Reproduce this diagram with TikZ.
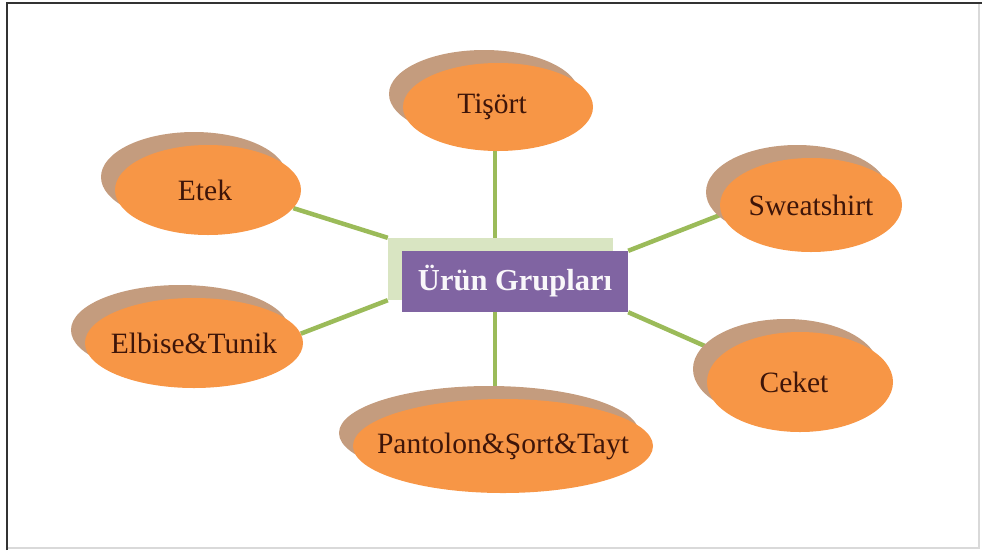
\documentclass[tikz,border=0pt]{standalone}
\usepackage{fontspec}
\setmainfont{Liberation Serif}
\usetikzlibrary{shapes.geometric,shadows,backgrounds}

\definecolor{blobfill}{HTML}{F79646}
\definecolor{blobshade}{HTML}{C49C7E}
\definecolor{blobtext}{HTML}{3E1509}
\definecolor{linkgreen}{HTML}{9BBB59}
\definecolor{hubpurple}{HTML}{8064A2}
\definecolor{hubback}{HTML}{D9E5C2}

\tikzset{
  blob/.style={ellipse, fill=blobfill, inner sep=0pt, text=blobtext,
    font=\fontsize{29.5}{32}\selectfont,
    general shadow={shadow xshift=-14pt, shadow yshift=13pt, fill=blobshade, draw=none}},
  link/.style={draw=linkgreen, line width=4.5pt},
  hubbox/.style={rectangle, fill=hubpurple, inner sep=0pt, text=white!95!hubpurple,
    font=\fontsize{30.5}{33}\selectfont\bfseries},
  hubshade/.style={rectangle, fill=hubback, inner sep=0pt}
}

\newcommand{\blobtxt}[1]{\makebox[0pt]{#1}}

\begin{document}
\begin{tikzpicture}[x=1pt, y=-1pt]
  \useasboundingbox (0,0) rectangle (982,550);

  % frame
  \draw[black!15, line width=1.2pt] (979,3) -- (979,548) -- (7,548);
  \draw[black!80, line width=2pt] (7,550) -- (7,3) -- (982,3);

  % central hub
  \node[hubshade, minimum width=225pt, minimum height=62pt] (back) at (500.5,269) {};
  \node[hubbox, minimum width=226pt, minimum height=61pt] (hub) at (515,281.5) {Ürün Grupları};

  % product groups
  \node[blob, minimum width=190pt, minimum height=88pt] (tis) at (498,107) {\blobtxt{\hspace*{-12pt}Tişört}};
  \node[blob, minimum width=186pt, minimum height=90pt] (etek) at (208,190) {\blobtxt{\hspace*{-6pt}Etek}};
  \node[blob, minimum width=182pt, minimum height=94pt] (sweat) at (811,205) {\blobtxt{Sweatshirt}};
  \node[blob, minimum width=218pt, minimum height=90pt] (elbise) at (194,343) {\blobtxt{Elbise\&Tunik}};
  \node[blob, minimum width=186pt, minimum height=100pt] (ceket) at (800,382) {\blobtxt{\hspace*{-12pt}Ceket}};
  \node[blob, minimum width=300pt, minimum height=94pt] (pant) at (503,446) {\blobtxt{Pantolon\&Şort\&Tayt}};

  % vertical axis shared by the upper and lower connectors
  \coordinate (axis) at (495,0);

  % connectors, kept underneath the shapes
  \begin{pgfonlayer}{background}
    \draw[link] (axis |- back.north) -- (axis |- tis.south);
    \draw[link] (back.north west) -- (etek.-12);
    \draw[link] (hub.north east) -- (sweat.186);
    \draw[link] (back.south west) -- (elbise.5);
    \draw[link] (hub.south east) -- (ceket.160);
    \draw[link] (axis |- hub.south) -- (axis |- pant.north);
  \end{pgfonlayer}
\end{tikzpicture}
\end{document}
